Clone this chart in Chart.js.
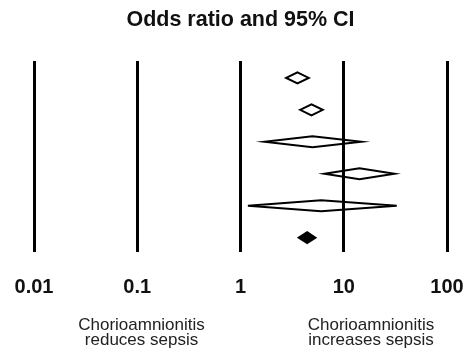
<!DOCTYPE html>
<html>
<head>
<meta charset="utf-8">
<script src="https://cdn.jsdelivr.net/npm/chart.js@4/dist/chart.umd.min.js"></script>
<style>
  html, body { margin: 0; padding: 0; background: #fff; }
  #c { display: block; }
</style>
</head>
<body>
<canvas id="c" width="472" height="355"></canvas>
<script>
// Forest plot rows, top to bottom (last row is the pooled estimate)
const rows = [1, 2, 3, 4, 5, 6];
const oddsRatio = [3.56, 4.87, 4.98, 14.2, 6.04, 4.42];
const ciLower   = [2.77, 3.78, 1.71, 6.5, 1.18, 3.67];
const ciUpper   = [4.58, 6.26, 14.8, 31.0, 32.6, 5.32];
const pooledRow = [false, false, false, false, false, true];

// Log axis ticks
const tickValues = [0.01, 0.1, 1, 10, 100];
const tickLabels = ['0.01', '0.1', '1', '10', '100'];

// Captions under the axis
const leftNote  = ['Chorioamnionitis', 'reduces sepsis'];
const rightNote = ['Chorioamnionitis', 'increases sepsis'];

const FONT = "'Liberation Sans', Arial, sans-serif";

// Draws each study as a diamond spanning its confidence interval
const diamondPlugin = {
  id: 'diamonds',
  afterDatasetsDraw(chart) {
    const { ctx, scales: { x, y } } = chart;
    const half = 5.5;
    ctx.save();
    ctx.lineWidth = 2;
    ctx.strokeStyle = '#000';
    ctx.lineJoin = 'miter';
    rows.forEach((r, i) => {
      const yc = y.getPixelForValue(r);
      const xl = x.getPixelForValue(ciLower[i]);
      const xm = x.getPixelForValue(oddsRatio[i]);
      const xh = x.getPixelForValue(ciUpper[i]);
      ctx.beginPath();
      ctx.moveTo(xl, yc);
      ctx.lineTo(xm, yc - half);
      ctx.lineTo(xh, yc);
      ctx.lineTo(xm, yc + half);
      ctx.closePath();
      if (pooledRow[i]) {
        ctx.fillStyle = '#000';
        ctx.fill();
      }
      ctx.stroke();
    });
    ctx.restore();
  }
};

// Two-line captions beneath the x axis
const notesPlugin = {
  id: 'notes',
  afterDraw(chart) {
    const { ctx } = chart;
    ctx.save();
    ctx.font = '17px ' + FONT;
    ctx.fillStyle = '#222';
    ctx.textAlign = 'center';
    ctx.textBaseline = 'alphabetic';
    const lineGap = 14.5;
    const base = 330;
    leftNote.forEach((t, i) => ctx.fillText(t, 141.5, base + i * lineGap));
    rightNote.forEach((t, i) => ctx.fillText(t, 371, base + i * lineGap));
    ctx.restore();
  }
};

new Chart(document.getElementById('c'), {
  type: 'scatter',
  data: {
    datasets: [{
      label: 'Odds ratio',
      data: rows.map((r, i) => ({ x: oddsRatio[i], y: r })),
      pointRadius: 0,
      showLine: false
    }]
  },
  options: {
    responsive: false,
    animation: false,
    devicePixelRatio: 1,
    layout: { padding: { left: 34, right: 25, top: 0, bottom: 0 } },
    plugins: {
      legend: { display: false },
      tooltip: { enabled: false },
      title: {
        display: true,
        text: 'Odds ratio and 95% CI',
        color: '#111',
        font: { family: FONT, size: 21.5, weight: 'bold', lineHeight: 1.2 },
        padding: { top: 7, bottom: 28.2 }
      }
    },
    scales: {
      x: {
        type: 'logarithmic',
        position: 'bottom',
        min: 0.01,
        max: 100,
        afterBuildTicks: s => { s.ticks = tickValues.map(v => ({ value: v })); },
        afterFit: s => { s.height = 103; s.paddingLeft = 0; s.paddingRight = 0; },
        grid: { color: '#000', lineWidth: 3, drawTicks: false },
        border: { display: false },
        ticks: {
          autoSkip: false,
          maxRotation: 0,
          padding: 23,
          color: '#111',
          font: { family: FONT, size: 20, weight: 'bold' },
          callback: (v, i) => tickLabels[i]
        }
      },
      y: {
        display: false,
        reverse: true,
        min: 0.47,
        max: 6.45
      }
    }
  },
  plugins: [diamondPlugin, notesPlugin]
});
</script>
</body>
</html>
